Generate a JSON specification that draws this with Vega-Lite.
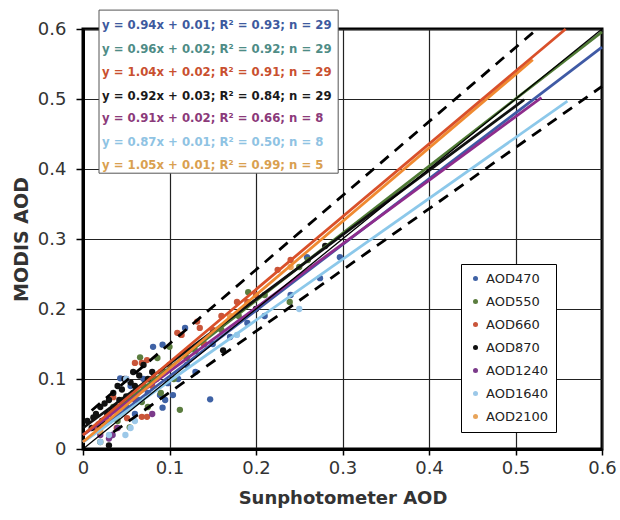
{
  "$schema": "https://vega.github.io/schema/vega-lite/v6.json",
  "width": 519,
  "height": 420,
  "autosize": {"type": "none"},
  "padding": {"left": 83, "top": 29, "right": 18, "bottom": 71},
  "background": "white",
  "config": {
    "font": "DejaVu Sans",
    "view": {"stroke": "#000", "strokeWidth": 3}
  },
  "datasets": {
    "pts": [
      {"series": "AOD470", "x": 0.034, "y": 0.02}, {"series": "AOD470", "x": 0.043, "y": 0.101}, {"series": "AOD470", "x": 0.05, "y": 0.06}, {"series": "AOD470", "x": 0.055, "y": 0.09}, {"series": "AOD470", "x": 0.06, "y": 0.05}, {"series": "AOD470", "x": 0.065, "y": 0.07}, {"series": "AOD470", "x": 0.07, "y": 0.1}, {"series": "AOD470", "x": 0.075, "y": 0.08}, {"series": "AOD470", "x": 0.081, "y": 0.146}, {"series": "AOD470", "x": 0.089, "y": 0.077}, {"series": "AOD470", "x": 0.092, "y": 0.149}, {"series": "AOD470", "x": 0.092, "y": 0.059}, {"series": "AOD470", "x": 0.095, "y": 0.07}, {"series": "AOD470", "x": 0.098, "y": 0.094}, {"series": "AOD470", "x": 0.104, "y": 0.077}, {"series": "AOD470", "x": 0.11, "y": 0.1}, {"series": "AOD470", "x": 0.118, "y": 0.173}, {"series": "AOD470", "x": 0.12, "y": 0.12}, {"series": "AOD470", "x": 0.13, "y": 0.11}, {"series": "AOD470", "x": 0.147, "y": 0.071}, {"series": "AOD470", "x": 0.15, "y": 0.15}, {"series": "AOD470", "x": 0.17, "y": 0.16}, {"series": "AOD470", "x": 0.19, "y": 0.18}, {"series": "AOD470", "x": 0.21, "y": 0.19}, {"series": "AOD470", "x": 0.24, "y": 0.22}, {"series": "AOD470", "x": 0.259, "y": 0.274}, {"series": "AOD470", "x": 0.274, "y": 0.244}, {"series": "AOD470", "x": 0.297, "y": 0.274}, {"series": "AOD470", "x": 0.03, "y": 0.04},
      {"series": "AOD550", "x": 0.02, "y": 0.03}, {"series": "AOD550", "x": 0.03, "y": 0.05}, {"series": "AOD550", "x": 0.035, "y": 0.06}, {"series": "AOD550", "x": 0.04, "y": 0.04}, {"series": "AOD550", "x": 0.045, "y": 0.07}, {"series": "AOD550", "x": 0.054, "y": 0.031}, {"series": "AOD550", "x": 0.058, "y": 0.08}, {"series": "AOD550", "x": 0.066, "y": 0.131}, {"series": "AOD550", "x": 0.068, "y": 0.067}, {"series": "AOD550", "x": 0.07, "y": 0.09}, {"series": "AOD550", "x": 0.075, "y": 0.06}, {"series": "AOD550", "x": 0.08, "y": 0.1}, {"series": "AOD550", "x": 0.086, "y": 0.13}, {"series": "AOD550", "x": 0.09, "y": 0.08}, {"series": "AOD550", "x": 0.095, "y": 0.11}, {"series": "AOD550", "x": 0.1, "y": 0.146}, {"series": "AOD550", "x": 0.105, "y": 0.1}, {"series": "AOD550", "x": 0.112, "y": 0.056}, {"series": "AOD550", "x": 0.12, "y": 0.13}, {"series": "AOD550", "x": 0.13, "y": 0.14}, {"series": "AOD550", "x": 0.14, "y": 0.15}, {"series": "AOD550", "x": 0.16, "y": 0.17}, {"series": "AOD550", "x": 0.18, "y": 0.19}, {"series": "AOD550", "x": 0.191, "y": 0.224}, {"series": "AOD550", "x": 0.21, "y": 0.22}, {"series": "AOD550", "x": 0.239, "y": 0.21}, {"series": "AOD550", "x": 0.25, "y": 0.26}, {"series": "AOD550", "x": 0.26, "y": 0.27}, {"series": "AOD550", "x": 0.02, "y": 0.01},
      {"series": "AOD660", "x": 0.015, "y": 0.03}, {"series": "AOD660", "x": 0.025, "y": 0.04}, {"series": "AOD660", "x": 0.035, "y": 0.074}, {"series": "AOD660", "x": 0.039, "y": 0.03}, {"series": "AOD660", "x": 0.045, "y": 0.06}, {"series": "AOD660", "x": 0.051, "y": 0.044}, {"series": "AOD660", "x": 0.06, "y": 0.123}, {"series": "AOD660", "x": 0.068, "y": 0.123}, {"series": "AOD660", "x": 0.068, "y": 0.046}, {"series": "AOD660", "x": 0.074, "y": 0.127}, {"series": "AOD660", "x": 0.074, "y": 0.046}, {"series": "AOD660", "x": 0.08, "y": 0.09}, {"series": "AOD660", "x": 0.085, "y": 0.1}, {"series": "AOD660", "x": 0.09, "y": 0.11}, {"series": "AOD660", "x": 0.1, "y": 0.12}, {"series": "AOD660", "x": 0.109, "y": 0.166}, {"series": "AOD660", "x": 0.114, "y": 0.163}, {"series": "AOD660", "x": 0.12, "y": 0.14}, {"series": "AOD660", "x": 0.132, "y": 0.182}, {"series": "AOD660", "x": 0.135, "y": 0.173}, {"series": "AOD660", "x": 0.14, "y": 0.15}, {"series": "AOD660", "x": 0.15, "y": 0.17}, {"series": "AOD660", "x": 0.16, "y": 0.19}, {"series": "AOD660", "x": 0.178, "y": 0.21}, {"series": "AOD660", "x": 0.19, "y": 0.21}, {"series": "AOD660", "x": 0.2, "y": 0.22}, {"series": "AOD660", "x": 0.225, "y": 0.256}, {"series": "AOD660", "x": 0.24, "y": 0.27}, {"series": "AOD660", "x": 0.03, "y": 0.05},
      {"series": "AOD870", "x": 0.005, "y": 0.04}, {"series": "AOD870", "x": 0.01, "y": 0.03}, {"series": "AOD870", "x": 0.012, "y": 0.045}, {"series": "AOD870", "x": 0.015, "y": 0.05}, {"series": "AOD870", "x": 0.018, "y": 0.035}, {"series": "AOD870", "x": 0.02, "y": 0.06}, {"series": "AOD870", "x": 0.022, "y": 0.04}, {"series": "AOD870", "x": 0.025, "y": 0.065}, {"series": "AOD870", "x": 0.028, "y": 0.05}, {"series": "AOD870", "x": 0.03, "y": 0.005}, {"series": "AOD870", "x": 0.03, "y": 0.07}, {"series": "AOD870", "x": 0.033, "y": 0.055}, {"series": "AOD870", "x": 0.035, "y": 0.08}, {"series": "AOD870", "x": 0.038, "y": 0.06}, {"series": "AOD870", "x": 0.04, "y": 0.09}, {"series": "AOD870", "x": 0.042, "y": 0.07}, {"series": "AOD870", "x": 0.045, "y": 0.085}, {"series": "AOD870", "x": 0.048, "y": 0.1}, {"series": "AOD870", "x": 0.05, "y": 0.075}, {"series": "AOD870", "x": 0.055, "y": 0.095}, {"series": "AOD870", "x": 0.058, "y": 0.11}, {"series": "AOD870", "x": 0.06, "y": 0.09}, {"series": "AOD870", "x": 0.065, "y": 0.105}, {"series": "AOD870", "x": 0.07, "y": 0.12}, {"series": "AOD870", "x": 0.075, "y": 0.1}, {"series": "AOD870", "x": 0.08, "y": 0.11}, {"series": "AOD870", "x": 0.162, "y": 0.141}, {"series": "AOD870", "x": 0.2, "y": 0.2}, {"series": "AOD870", "x": 0.28, "y": 0.29},
      {"series": "AOD1240", "x": 0.02, "y": 0.02}, {"series": "AOD1240", "x": 0.03, "y": 0.015}, {"series": "AOD1240", "x": 0.034, "y": 0.02}, {"series": "AOD1240", "x": 0.04, "y": 0.03}, {"series": "AOD1240", "x": 0.045, "y": 0.06}, {"series": "AOD1240", "x": 0.05, "y": 0.1}, {"series": "AOD1240", "x": 0.06, "y": 0.07}, {"series": "AOD1240", "x": 0.08, "y": 0.05},
      {"series": "AOD1640", "x": 0.02, "y": 0.01}, {"series": "AOD1640", "x": 0.03, "y": 0.02}, {"series": "AOD1640", "x": 0.049, "y": 0.02}, {"series": "AOD1640", "x": 0.05, "y": 0.1}, {"series": "AOD1640", "x": 0.055, "y": 0.03}, {"series": "AOD1640", "x": 0.06, "y": 0.04}, {"series": "AOD1640", "x": 0.178, "y": 0.163}, {"series": "AOD1640", "x": 0.25, "y": 0.2},
      {"series": "AOD2100", "x": 0.02, "y": 0.025}, {"series": "AOD2100", "x": 0.04, "y": 0.05}, {"series": "AOD2100", "x": 0.06, "y": 0.08}, {"series": "AOD2100", "x": 0.17, "y": 0.19}, {"series": "AOD2100", "x": 0.24, "y": 0.26}
    ],
    "fits": [
      {"series": "AOD470", "x": 0, "y": 0.01}, {"series": "AOD470", "x": 0.6, "y": 0.574},
      {"series": "AOD550", "x": 0, "y": 0.02}, {"series": "AOD550", "x": 0.6, "y": 0.596},
      {"series": "AOD1240", "x": 0, "y": 0.02}, {"series": "AOD1240", "x": 0.53, "y": 0.502},
      {"series": "AOD1640", "x": 0, "y": 0.01}, {"series": "AOD1640", "x": 0.56, "y": 0.497},
      {"series": "AOD870", "x": 0, "y": 0.03}, {"series": "AOD870", "x": 0.51, "y": 0.499},
      {"series": "AOD2100", "x": 0, "y": 0.01}, {"series": "AOD2100", "x": 0.52, "y": 0.556},
      {"series": "AOD660", "x": 0, "y": 0.02}, {"series": "AOD660", "x": 0.558, "y": 0.6}
    ],
    "bounds": [
      {"side": "upper", "x": 0.01, "y": 0.055}, {"side": "upper", "x": 0.525, "y": 0.6},
      {"side": "lower", "x": 0.035, "y": 0.024}, {"side": "lower", "x": 0.6, "y": 0.518}
    ],
    "oneone": [{"x": 0, "y": 0}, {"x": 0.6, "y": 0.6}],
    "box": [{"x": 0.0185, "x2": 0.295, "y": 0.627, "y2": 0.394}],
    "eqs": [
      {"series": "AOD470", "label": "y = 0.94x + 0.01; R² = 0.93; n = 29", "x": 0.022, "y": 0.6057},
      {"series": "AOD550", "label": "y = 0.96x + 0.02; R² = 0.92; n = 29", "x": 0.022, "y": 0.5714},
      {"series": "AOD660", "label": "y = 1.04x + 0.02; R² = 0.91; n = 29", "x": 0.022, "y": 0.5386},
      {"series": "AOD870", "label": "y = 0.92x + 0.03; R² = 0.84; n = 29", "x": 0.022, "y": 0.5043},
      {"series": "AOD1240", "label": "y = 0.91x + 0.02; R² = 0.66; n = 8", "x": 0.022, "y": 0.473},
      {"series": "AOD1640", "label": "y = 0.87x + 0.01; R² = 0.50; n = 8", "x": 0.022, "y": 0.439},
      {"series": "AOD2100", "label": "y = 1.05x + 0.01; R² = 0.99; n = 5", "x": 0.022, "y": 0.406}
    ]
  },
  "encoding": {
    "x": {
      "field": "x", "type": "quantitative",
      "scale": {"domain": [0, 0.6], "nice": false, "zero": false},
      "axis": {
        "values": [0, 0.1, 0.2, 0.3, 0.4, 0.5, 0.6], "format": "~g",
        "title": "Sunphotometer AOD", "titleFontSize": 18, "titleFontWeight": "bold", "titleColor": "#333", "titlePadding": 12,
        "labelFontSize": 18, "labelColor": "#333", "labelPadding": 4, "labelFlush": false, "labelOverlap": false,
        "tickSize": 6, "tickColor": "#000", "tickWidth": 1.5,
        "domainColor": "#000", "domainWidth": 3,
        "grid": true, "gridColor": "#222", "gridWidth": 1.2
      }
    },
    "y": {
      "field": "y", "type": "quantitative",
      "scale": {"domain": [0, 0.6], "nice": false, "zero": false},
      "axis": {
        "values": [0, 0.1, 0.2, 0.3, 0.4, 0.5, 0.6], "format": "~g",
        "title": "MODIS AOD", "titleFontSize": 19, "titleFontWeight": "bold", "titleColor": "#333", "titlePadding": 6,
        "labelFontSize": 18, "labelColor": "#333", "labelPadding": 10, "labelFlush": false, "labelOverlap": false,
        "tickSize": 7, "tickColor": "#000", "tickWidth": 1.5,
        "domainColor": "#000", "domainWidth": 3,
        "grid": true, "gridColor": "#222", "gridWidth": 1.2
      }
    }
  },
  "layer": [
    {
      "data": {"name": "pts"},
      "mark": {"type": "point", "filled": true, "size": 40, "opacity": 1},
      "encoding": {
        "color": {
          "field": "series", "type": "nominal",
          "scale": {
            "domain": ["AOD470", "AOD550", "AOD660", "AOD870", "AOD1240", "AOD1640", "AOD2100"],
            "range": ["#3f62a5", "#5b7d3f", "#c9553a", "#111111", "#7b3a8a", "#9cc8e8", "#e8a45a"]
          },
          "legend": {
            "title": null, "orient": "none", "legendX": 378, "legendY": 235,
            "fillColor": "white", "strokeColor": "#000", "padding": 8,
            "labelFontSize": 13, "labelColor": "#222", "symbolType": "circle", "symbolSize": 25,
            "symbolStrokeWidth": 0, "rowPadding": 9, "labelOffset": 4
          }
        }
      }
    },
    {
      "data": {"name": "bounds"},
      "mark": {"type": "line", "color": "#000", "strokeWidth": 2.8, "strokeDash": [11, 8]},
      "encoding": {"detail": {"field": "side"}}
    },
    {
      "data": {"name": "fits"},
      "mark": {"type": "line", "strokeWidth": 2.8},
      "encoding": {
        "stroke": {
          "field": "series", "type": "nominal", "legend": null,
          "scale": {
            "domain": ["AOD470", "AOD550", "AOD660", "AOD870", "AOD1240", "AOD1640", "AOD2100"],
            "range": ["#3f5aa5", "#4f7a35", "#d9502a", "#111111", "#8e2c8c", "#8cc8ea", "#f08a30"]
          }
        },
        "order": {"value": 0}
      }
    },
    {
      "data": {"name": "oneone"},
      "mark": {"type": "line", "color": "#000", "strokeWidth": 1.3},
      "encoding": {}
    },
    {
      "data": {"name": "box"},
      "mark": {"type": "rect", "fill": "white", "stroke": "#555", "strokeWidth": 1},
      "encoding": {
        "x2": {"field": "x2"},
        "y2": {"field": "y2"}
      }
    },
    {
      "data": {"name": "eqs"},
      "mark": {"type": "text", "align": "left", "baseline": "middle", "fontSize": 11.7, "fontWeight": "bold"},
      "encoding": {
        "text": {"field": "label"},
        "fill": {
          "field": "series", "type": "nominal", "legend": null,
          "scale": {
            "domain": ["AOD470", "AOD550", "AOD660", "AOD870", "AOD1240", "AOD1640", "AOD2100"],
            "range": ["#3d5a9e", "#4e8c86", "#c9502f", "#1a1a1a", "#8b3a7a", "#8fc3e3", "#d9a050"]
          }
        }
      }
    }
  ]
}
